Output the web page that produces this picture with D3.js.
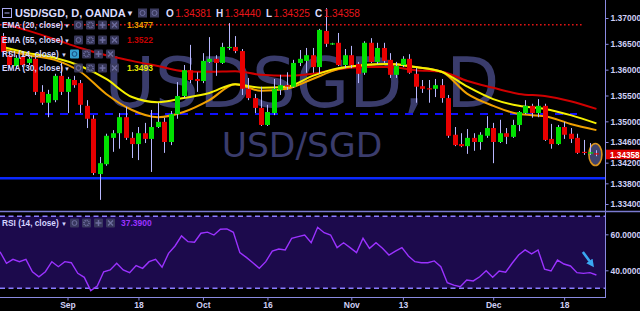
<!DOCTYPE html>
<html><head><meta charset="utf-8">
<script src="https://cdn.jsdelivr.net/npm/d3@7"></script>
<style>html,body{margin:0;padding:0;background:#000;overflow:hidden}svg{display:block}</style>
</head><body><svg id="c" width="640" height="311"></svg>
<script>
// ---- data (daily candles, USD/SGD, OANDA) ----
const openP = [1.3665,1.3628,1.3607,1.3625,1.3613,1.3621,1.3557,1.3536,1.3541,1.3588,
1.3557,1.3580,1.3574,1.3530,1.3505,1.3398,1.3417,1.3468,1.3477,1.3508,
1.3468,1.3456,1.3477,1.3466,1.3489,1.3499,1.3460,1.3514,1.3549,1.3599,
1.3582,1.3578,1.3615,1.3621,1.3613,1.3642,1.3644,1.3636,1.3563,1.3545,
1.3526,1.3493,1.3516,1.3561,1.3570,1.3567,1.3613,1.3617,1.3628,1.3605,
1.3675,1.3650,1.3652,1.3609,1.3628,1.3611,1.3594,1.3652,1.3615,1.3642,
1.3619,1.3590,1.3609,1.3621,1.3592,1.3568,1.3564,1.3563,1.3570,1.3545,
1.3474,1.3456,1.3452,1.3468,1.3460,1.3472,1.3487,1.3460,1.3477,1.3470,
1.3493,1.3516,1.3530,1.3516,1.3530,1.3466,1.3456,1.3489,1.3476,1.3468,
1.3441,1.3438,1.34381];
const highP = [1.3671,1.3634,1.3628,1.3628,1.3625,1.3625,1.3570,1.3561,1.3592,1.3613,
1.3586,1.3588,1.3580,1.3541,1.3512,1.3431,1.3476,1.3483,1.3516,1.3528,
1.3479,1.3489,1.3497,1.3522,1.3536,1.3507,1.3520,1.3576,1.3609,1.3648,
1.3595,1.3632,1.3663,1.3628,1.3652,1.3690,1.3665,1.3640,1.3584,1.3553,
1.3567,1.3532,1.3582,1.3590,1.3595,1.3619,1.3638,1.3642,1.3642,1.3679,
1.3719,1.3652,1.3671,1.3640,1.3646,1.3615,1.3655,1.3661,1.3652,1.3652,
1.3632,1.3615,1.3626,1.3630,1.3603,1.3580,1.3580,1.3582,1.3582,1.3551,
1.3489,1.3477,1.3485,1.3477,1.3479,1.3510,1.3497,1.3503,1.3487,1.3503,
1.3520,1.3541,1.3534,1.3543,1.3534,1.3495,1.3493,1.3499,1.3487,1.3476,
1.3464,1.3458,1.34440];
const lowP = [1.3628,1.3603,1.3601,1.3605,1.3609,1.3551,1.3532,1.3508,1.3537,1.3551,
1.3516,1.3565,1.3516,1.3487,1.3396,1.3348,1.3414,1.3441,1.3447,1.3464,
1.3429,1.3425,1.3458,1.3402,1.3487,1.3439,1.3454,1.3505,1.3545,1.3574,
1.3557,1.3574,1.3613,1.3588,1.3611,1.3638,1.3632,1.3551,1.3541,1.3516,
1.3491,1.3491,1.3512,1.3551,1.3561,1.3565,1.3607,1.3594,1.3594,1.3592,
1.3644,1.3648,1.3607,1.3603,1.3603,1.3574,1.3590,1.3613,1.3611,1.3613,
1.3584,1.3584,1.3605,1.3592,1.3536,1.3555,1.3536,1.3547,1.3536,1.3468,
1.3452,1.3450,1.3437,1.3443,1.3445,1.3468,1.3419,1.3458,1.3456,1.3468,
1.3481,1.3514,1.3507,1.3508,1.3462,1.3447,1.3454,1.3466,1.3458,1.3437,
1.3435,1.3435,1.34325];
const closeP = [1.3634,1.3609,1.3623,1.3609,1.3621,1.3557,1.3536,1.3553,1.3588,1.3557,
1.3582,1.3570,1.3532,1.3505,1.3400,1.3419,1.3472,1.3477,1.3508,1.3468,
1.3456,1.3477,1.3466,1.3489,1.3499,1.3460,1.3514,1.3549,1.3599,1.3580,
1.3578,1.3617,1.3621,1.3613,1.3644,1.3644,1.3636,1.3563,1.3545,1.3526,
1.3493,1.3518,1.3563,1.3570,1.3567,1.3613,1.3621,1.3628,1.3605,1.3677,
1.3650,1.3651,1.3609,1.3628,1.3609,1.3592,1.3652,1.3615,1.3642,1.3617,
1.3590,1.3607,1.3621,1.3594,1.3567,1.3563,1.3562,1.3570,1.3545,1.3472,
1.3454,1.3452,1.3468,1.3460,1.3474,1.3487,1.3460,1.3477,1.3470,1.3493,
1.3518,1.3530,1.3516,1.3530,1.3464,1.3456,1.3489,1.3474,1.3466,1.3439,
1.3439,1.3440,1.34358];
const rsiValues = [50.3,43.9,46.1,44.8,46.1,39.2,36.4,39.2,44.8,42.0,
44.8,44.2,38.3,36.1,28.7,31.3,39.2,40.2,43.9,40.2,
38.7,42.6,41.1,44.8,46.1,41.7,49.4,53.5,59.1,55.9,
55.6,60.6,61.2,59.6,62.8,63.0,61.1,49.8,47.2,44.2,
41.1,44.8,50.7,51.8,51.3,57.8,58.7,59.6,55.3,63.9,
60.9,59.6,52.6,55.3,52.6,49.8,57.8,52.2,55.3,52.2,
48.5,50.7,52.6,48.0,44.8,44.2,44.2,45.2,42.0,33.1,
31.8,30.9,34.6,34.1,36.4,39.8,36.1,39.6,38.9,43.9,
48.5,51.3,49.1,51.3,40.6,39.6,45.7,43.5,42.4,38.7,
38.3,38.7,37.39];
// EMA readings, sampled every 4th candle
const emaIdx = [0,4,8,12,16,20,24,28,32,36,40,44,48,52,56,60,64,68,72,76,80,84,88,92];
const ema55 = [1.3690,1.3675,1.3659,1.3642,1.3628,1.3617,1.3607,1.3597,1.3596,1.3597,1.3590,1.3588,1.3592,1.3601,1.3605,1.3605,1.3599,1.3596,1.3578,1.3565,1.3553,1.3549,1.3539,1.3524];
const ema30 = [1.3644,1.3632,1.3623,1.3607,1.3582,1.3547,1.3537,1.3545,1.3555,1.3572,1.3565,1.3567,1.3588,1.3603,1.3609,1.3611,1.3605,1.3596,1.3567,1.3543,1.3530,1.3524,1.3512,1.3496];
const ema20 = [1.3639,1.3628,1.3619,1.3596,1.3553,1.3522,1.3508,1.3518,1.3541,1.3572,1.3559,1.3563,1.3582,1.3601,1.3609,1.3611,1.3605,1.3596,1.3553,1.3530,1.3514,1.3510,1.3495,1.3483];
const priceTicks = [1.370,1.365,1.360,1.355,1.350,1.346,1.342,1.338,1.334];
const rsiTicks = [60,40];
const xTickIdx = [10,21,31,41,54,62,76,87];
const xTickLabels = ["Sep","18","Oct","16","Nov","13","Dec","18"];
const resistanceLevel = 1.3687, midLevel = 1.3514, supportLevel = 1.3390;
const lastOHLC = {o:"1.34381",h:"1.34440",l:"1.34325",c:"1.34358"};
const legendRows = [
  {label:"EMA (20, close)", value:"1.3477", color:"#e89a00"},
  {label:"EMA (55, close)", value:"1.3522", color:"#c40000"},
  {label:"RSI (14, close)", value:"", color:"#000"},
  {label:"EMA (30, close)", value:"1.3493", color:"#e6e600"}
];

// ---- drawing ----
const W=640,H=311, axisX=605;
const svg=d3.select('#c');
svg.append('rect').attr('width',W).attr('height',H).attr('fill','#000');
const N=closeP.length;
const x=d3.scaleLinear().domain([0,N-1]).range([3,596.4]);
const y=d3.scaleLinear().domain([1.334,1.370]).range([204,18]);
const yr=d3.scaleLinear().domain([30,70]).range([288.3,216.3]);
const UI="'Liberation Sans', Arial, sans-serif";
const txtCol="#cfcff5";

const defs=svg.append('defs');
defs.append('clipPath').attr('id','mainClip').append('rect').attr('x',0).attr('y',0).attr('width',axisX).attr('height',211);
defs.append('clipPath').attr('id','rsiClip').append('rect').attr('x',0).attr('y',212).attr('width',axisX).attr('height',85);

const main=svg.append('g').attr('clip-path','url(#mainClip)');
// watermark
main.append('text').attr('x',302).attr('y',107).attr('text-anchor','middle')
  .attr('font-family','DejaVu Sans').attr('font-size',69).attr('fill','#3a3c6c').text('USDSGD, D');
main.append('text').attr('x',302).attr('y',157).attr('text-anchor','middle')
  .attr('font-family','DejaVu Sans').attr('font-size',34.5).attr('fill','#3a3c6c').text('USD/SGD');

// horizontal levels
main.append('line').attr('x1',0).attr('x2',583).attr('y1',y(resistanceLevel)).attr('y2',y(resistanceLevel))
  .attr('stroke','#e01414').attr('stroke-width',1.5).attr('stroke-dasharray','1.6,2.4');
main.append('line').attr('x1',0).attr('x2',577).attr('y1',y(midLevel)).attr('y2',y(midLevel))
  .attr('stroke','#1010ff').attr('stroke-width',2).attr('stroke-dasharray','8,7');
main.append('line').attr('x1',0).attr('x2',axisX).attr('y1',y(supportLevel)).attr('y2',y(supportLevel))
  .attr('stroke','#0a28ff').attr('stroke-width',2.5);

// EMA lines
const emaLine=(arr)=>d3.line().x((d,i)=>x(emaIdx[i])).y(d=>y(d)).curve(d3.curveMonotoneX)(arr);
main.append('path').attr('d',emaLine(ema55)).attr('fill','none').attr('stroke','#d00000').attr('stroke-width',2);
main.append('path').attr('d',emaLine(ema20)).attr('fill','none').attr('stroke','#f0a000').attr('stroke-width',2);
main.append('path').attr('d',emaLine(ema30)).attr('fill','none').attr('stroke','#f5f000').attr('stroke-width',2);

// highlight ellipse on last candle
main.append('ellipse').attr('cx',x(N-1)-1).attr('cy',y(closeP[N-1])).attr('rx',6.5).attr('ry',11)
  .attr('fill','#4a4f80').attr('fill-opacity',0.85).attr('stroke','#d8921e').attr('stroke-width',1.6);

// candles
const idx=d3.range(N);
main.selectAll('line.wick').data(idx).join('line').attr('class','wick')
  .attr('x1',i=>Math.round(x(i))+0.5).attr('x2',i=>Math.round(x(i))+0.5)
  .attr('y1',i=>y(highP[i])).attr('y2',i=>y(lowP[i]))
  .attr('stroke','#b8b8ff').attr('stroke-width',1);
const bw=5;
main.selectAll('rect.body').data(idx).join('rect').attr('class','body')
  .attr('x',i=>Math.round(x(i))+0.5-bw/2).attr('width',bw)
  .attr('y',i=>y(Math.max(openP[i],closeP[i])))
  .attr('height',i=>Math.max(1.2,Math.abs(y(openP[i])-y(closeP[i]))))
  .attr('fill',i=>closeP[i]>=openP[i]?'#00e000':'#e80000');

// axes frame
svg.append('line').attr('x1',axisX+0.5).attr('x2',axisX+0.5).attr('y1',0).attr('y2',298).attr('stroke','#8a8ae0');
svg.append('line').attr('x1',0).attr('x2',W).attr('y1',211.5).attr('y2',211.5).attr('stroke','#7a7ad0').attr('stroke-width',1.5);
svg.append('line').attr('x1',0).attr('x2',axisX).attr('y1',297.5).attr('y2',297.5).attr('stroke','#8a8ae0');

// price axis
const pa=svg.append('g').attr('transform',`translate(${axisX+0.5},0)`)
  .call(d3.axisRight(y).tickValues(priceTicks).tickFormat(d3.format('.5f')).tickSize(3).tickPadding(2));
pa.select('.domain').remove();
pa.selectAll('line').attr('stroke','#8a8ae0');
pa.selectAll('text').attr('fill',txtCol).attr('font-family',UI).attr('font-size',8.5).attr('font-weight','bold');

// last price tag
const ly=y(closeP[N-1]);
svg.append('rect').attr('x',axisX+1).attr('y',ly-4.8).attr('width',W-axisX-1).attr('height',9.6).attr('fill','#e00000');
svg.append('text').attr('x',axisX+5).attr('y',ly+3).attr('fill','#fff').attr('font-family',UI)
  .attr('font-size',8.2).attr('font-weight','bold').text(d3.format('.5f')(closeP[N-1]));

// RSI pane
const rp=svg.append('g').attr('clip-path','url(#rsiClip)');
rp.append('rect').attr('x',0).attr('width',axisX).attr('y',yr(70)).attr('height',yr(30)-yr(70)).attr('fill','#1c0a4c');
[70,30].forEach(v=>rp.append('line').attr('x1',0).attr('x2',axisX).attr('y1',yr(v)).attr('y2',yr(v))
  .attr('stroke','#8a7cff').attr('stroke-width',1.6).attr('stroke-dasharray','5,3.5'));
rp.append('path').attr('d',d3.line().x((d,i)=>x(i)-3*(1-i/(N-1))).y(d=>yr(d))(rsiValues))
  .attr('fill','none').attr('stroke','#9b32ff').attr('stroke-width',1.4);
// annotation arrow
const ax1=x(89.9), ay1=yr(50.2), ax2=x(91.5), ay2=yr(41.8);
defs.append('marker').attr('id','ah').attr('viewBox','0 0 10 10').attr('refX',5).attr('refY',5)
  .attr('markerWidth',3).attr('markerHeight',3).attr('orient','auto')
  .append('path').attr('d','M0,0 L10,5 L0,10 z').attr('fill','#3aa8f2');
rp.append('line').attr('x1',ax1).attr('y1',ay1).attr('x2',ax2-1.5).attr('y2',ay2-3)
  .attr('stroke','#3aa8f2').attr('stroke-width',2.6).attr('marker-end','url(#ah)');

const ra=svg.append('g').attr('transform',`translate(${axisX+0.5},0)`)
  .call(d3.axisRight(yr).tickValues(rsiTicks).tickFormat(d3.format('.4f')).tickSize(3).tickPadding(2));
ra.select('.domain').remove();
ra.selectAll('line').attr('stroke','#8a8ae0');
ra.selectAll('text').attr('fill',txtCol).attr('font-family',UI).attr('font-size',8.5).attr('font-weight','bold');

// time axis
const ta=svg.append('g').attr('transform','translate(0,297.5)')
  .call(d3.axisBottom(x).tickValues(xTickIdx).tickFormat((d,i)=>xTickLabels[i]).tickSize(3).tickPadding(1));
ta.select('.domain').remove();
ta.selectAll('line').attr('stroke','#8a8ae0');
ta.selectAll('text').attr('fill',txtCol).attr('font-family',UI).attr('font-size',8.5).attr('font-weight','bold');

// ---- legends ----
function icons(g, x0, yc, highlight){
  for(let k=0;k<4;k++){
    const bx=x0+k*12;
    g.append('rect').attr('x',bx).attr('y',yc-4.5).attr('width',9).attr('height',9).attr('rx',1)
      .attr('fill',(highlight&&k===0)?'#3ab0e8':'#3c3c60').attr('fill-opacity',0.9);
    const c=(highlight&&k===0)?'#1a4a80':'#6e6ea0';
    if(k===0) g.append('circle').attr('cx',bx+4.5).attr('cy',yc).attr('r',2.4).attr('fill','none').attr('stroke',c).attr('stroke-width',1);
    if(k===1) g.append('circle').attr('cx',bx+4.5).attr('cy',yc).attr('r',2.6).attr('fill','none').attr('stroke',c).attr('stroke-width',1.6).attr('stroke-dasharray','1.2,0.8');
    if(k===2){g.append('path').attr('d',`M${bx+1.5},${yc}H${bx+7.5}M${bx+4.5},${yc-3}V${yc+3}`).attr('stroke',c).attr('stroke-width',1.5);}
    if(k===3){g.append('path').attr('d',`M${bx+2},${yc-2.5}L${bx+7},${yc+2.5}M${bx+7},${yc-2.5}L${bx+2},${yc+2.5}`).attr('stroke',c).attr('stroke-width',1.3);}
  }
}
const lg=svg.append('g');
// title row
lg.append('rect').attr('x',2.5).attr('y',8.5).attr('width',9).attr('height',9).attr('fill','none').attr('stroke','#a8a8f0');
lg.append('line').attr('x1',4.5).attr('x2',9.5).attr('y1',13).attr('y2',13).attr('stroke','#a8a8f0');
lg.append('text').attr('x',15).attr('y',17).attr('fill','#dcdcff').attr('font-family',UI).attr('font-size',11).attr('font-weight','bold').text('USD/SGD, D, OANDA');
lg.append('text').attr('x',126).attr('y',16).attr('fill','#dcdcff').attr('font-family',UI).attr('font-size',8).text('▼');
for(let k=0;k<2;k++){
  lg.append('rect').attr('x',138+k*12).attr('y',8.5).attr('width',9).attr('height',9).attr('fill','#3c3c60');
  lg.append('circle').attr('cx',142.5+k*12).attr('cy',13).attr('r',2.5).attr('fill','none').attr('stroke','#6e6ea0');
}
const ohlc=[["O",lastOHLC.o,166],["H",lastOHLC.h,216],["L",lastOHLC.l,266],["C",lastOHLC.c,315]];
ohlc.forEach(([k,v,px])=>{
  const t=lg.append('text').attr('x',px).attr('y',17).attr('font-family',UI).attr('font-size',10);
  t.append('tspan').attr('fill','#dcdcff').attr('font-weight','bold').text(k);
  t.append('tspan').attr('fill','#e8161a').attr('dx',1.5).text(v);
});
// indicator rows
const rowY=[25,40,54,68];
legendRows.forEach((r,i)=>{
  if(r.label.startsWith('RSI')) return;
  const yc=rowY[i];
  lg.append('text').attr('x',2).attr('y',yc+3).attr('fill','#d4d4ff').attr('font-family',UI).attr('font-size',8.3).attr('font-weight','bold').text(r.label);
  lg.append('text').attr('x',64).attr('y',yc+2.5).attr('fill','#d4d4ff').attr('font-family',UI).attr('font-size',6).text('▼');
  icons(lg,74,yc,false);
  lg.append('text').attr('x',127).attr('y',yc+3.2).attr('fill',r.color).attr('font-family',UI).attr('font-size',8.5).attr('font-weight','bold').text(r.value);
});
// RSI overlay legend in main pane (row 3)
lg.append('text').attr('x',2).attr('y',rowY[2]+3).attr('fill','#d4d4ff').attr('font-family',UI).attr('font-size',8.3).attr('font-weight','bold').text('RSI (14, close)');
lg.append('text').attr('x',61).attr('y',rowY[2]+2.5).attr('fill','#d4d4ff').attr('font-family',UI).attr('font-size',6).text('▼');
icons(lg,70,rowY[2],true);
// RSI pane legend
lg.append('text').attr('x',2).attr('y',226).attr('fill','#d4d4ff').attr('font-family',UI).attr('font-size',8.3).attr('font-weight','bold').text('RSI (14, close)');
lg.append('text').attr('x',61).attr('y',225.5).attr('fill','#d4d4ff').attr('font-family',UI).attr('font-size',6).text('▼');
icons(lg,70,223,false);
lg.append('text').attr('x',121).attr('y',226).attr('fill','#9b32ff').attr('font-family',UI).attr('font-size',8.5).attr('font-weight','bold').text(d3.format('.4f')(rsiValues[N-1]));
</script></body></html>
